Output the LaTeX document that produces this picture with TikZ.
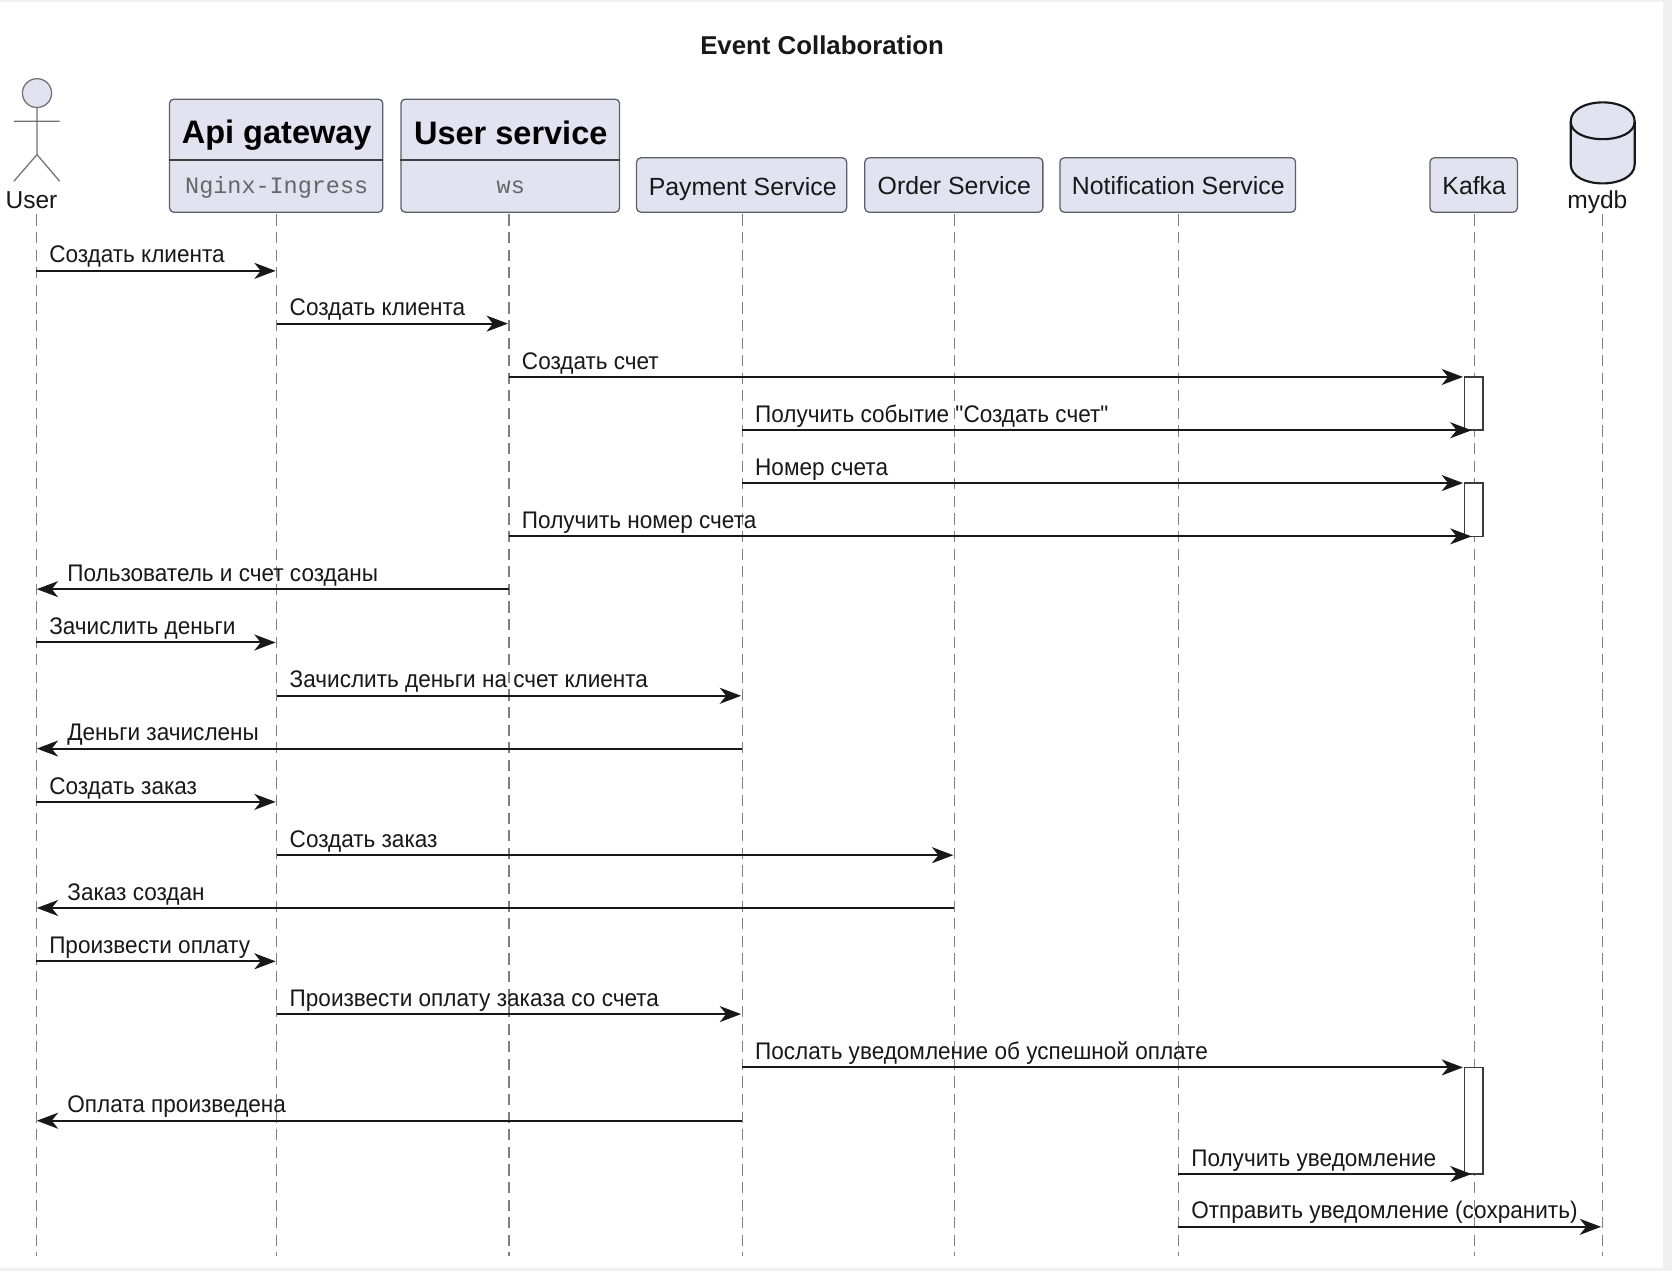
\documentclass[tikz,border=0pt]{standalone}
\usepackage{fontspec}
\setmainfont{Liberation Sans}
\setmonofont{Liberation Mono}
\newfontfamily\msgfont[FakeStretch=0.94]{Liberation Sans}
\usetikzlibrary{arrows.meta}
\definecolor{pfill}{HTML}{E2E2F0}
\definecolor{pline}{HTML}{5F5F68}
\definecolor{ink}{HTML}{181818}
\definecolor{band}{HTML}{F0F0F0}
\tikzset{
  pbox/.style={draw=pline,fill=pfill,line width=1.2pt,rounded corners=4pt,inner sep=0pt},
  ptext/.style={font=\fontsize{23.3}{26}\selectfont,text=ink,inner sep=0pt,anchor=center},
  bigtext/.style={font=\fontsize{30.5}{34}\selectfont\bfseries,text=black,inner sep=0pt,anchor=center},
  monotext/.style={font=\fontsize{22}{26}\selectfont\ttfamily,text=black!60,inner sep=0pt,anchor=center},
  life/.style={draw=black!50,line width=1.2pt,dash pattern=on 10.5pt off 6pt},
  msg/.style={draw=ink,line width=1.9pt,-{Stealth[length=20pt,width=15pt,inset=6pt]}},
  msgtext/.style={font=\msgfont\fontsize{22.5}{26}\selectfont,text=ink,inner sep=0pt,anchor=base west},
  act/.style={draw=ink!85,fill=white,line width=1.6pt},
  actor/.style={draw=black!55,line width=1.2pt},
  div/.style={draw=black!75,line width=1.8pt}
}
% message: y, from, to, end inset, text x offset, text
\newcommand{\msgR}[5][0]{%
  \draw[msg,shorten >=#1pt] (#3 |- 0,#2) -- (#4 |- 0,#2);
  \node[msgtext] at ([xshift=12pt]#3 |- 0,#2-7.4) {#5};}
\newcommand{\msgL}[4]{%
  \draw[msg,shorten >=0.5pt] (#2 |- 0,#1) -- (#3 |- 0,#1);
  \node[msgtext] at ([xshift=29pt]#3 |- 0,#1-7.4) {#4};}
\begin{document}
\begin{tikzpicture}[x=1pt,y=-1pt]
\useasboundingbox (0,0) rectangle (1568,1192);
\fill[band] (0,0) rectangle (1568,1192);
\fill[white] (0,2) rectangle (1560,1189);

\node[font=\fontsize{24.2}{28}\selectfont\bfseries,text=ink,inner sep=0pt] (title) at (771,42.5) {Event Collaboration};

% lifeline ends
\coordinate (uT) at (34,201);      \coordinate (uB) at (34,1178);
\coordinate (gT) at (259.5,201);   \coordinate (gB) at (259.5,1178);
\coordinate (sT) at (477.3,201);   \coordinate (sB) at (477.3,1178);
\coordinate (pT) at (696,201);     \coordinate (pB) at (696,1178);
\coordinate (oT) at (895,201);     \coordinate (oB) at (895,1178);
\coordinate (nT) at (1105,201);    \coordinate (nB) at (1105,1178);
\coordinate (kT) at (1382.5,201);  \coordinate (kB) at (1382.5,1178);
\coordinate (dT) at (1502.5,201);  \coordinate (dB) at (1502.5,1178);
\foreach \a/\b in {uT/uB,gT/gB,sT/sB,pT/pB,oT/oB,nT/nB,kT/kB,dT/dB}
  \draw[life] (\a) -- (\b);

% actor
\draw[actor,fill=pfill] (34.7,87.3) ellipse (13.7pt and 13.5pt);
\draw[actor] (34.7,100.8) -- (34.7,145) (13,113.7) -- (56,113.7)
  (13,170) -- (34.7,145) -- (56,170);
\node[font=\fontsize{23}{26}\selectfont,text=ink,inner sep=0pt] (user) at (29.5,188) {User};

% participants
\node[pbox,minimum width=200pt,minimum height=106pt] (gw) at (259,146) {};
\draw[div] (gw.west |- 0,150) -- (gw.east |- 0,150);
\node[bigtext] (gwt) at (259.5,127) {Api gateway};
\node[monotext] (gws) at (259.5,176) {Nginx-Ingress};

\node[pbox,minimum width=205pt,minimum height=106pt] (us) at (478.5,146) {};
\draw[div] (us.west |- 0,150) -- (us.east |- 0,150);
\node[bigtext] (ust) at (479,124.5) {User service};
\node[monotext] (uss) at (479,176) {ws};

\node[pbox,minimum width=197pt,minimum height=51pt] (pay) at (695.5,173.5) {};
\node[ptext] at (696.5,177) {Payment Service};
\node[pbox,minimum width=167pt,minimum height=51pt] (ord) at (894.5,173.5) {};
\node[ptext] at (895,174.5) {Order Service};
\node[pbox,minimum width=221pt,minimum height=51pt] (ntf) at (1104.5,173.5) {};
\node[ptext] at (1105,174.5) {Notification Service};
\node[pbox,minimum width=82pt,minimum height=51pt] (kaf) at (1382,173.5) {};
\node[ptext] at (1382.5,174.5) {Kafka};

% database
\draw[draw=ink,line width=2pt,fill=pfill]
  (1473,114) .. controls (1473,90) and (1533,90) .. (1533,114)
  -- (1533,154) .. controls (1533,178) and (1473,178) .. (1473,154) -- cycle;
\draw[draw=ink,line width=2pt] (1473,114) .. controls (1473,136) and (1533,136) .. (1533,114);
\node[font=\fontsize{23}{26}\selectfont,text=ink,inner sep=0pt] (mydb) at (1498,190) {mydb};

% activations
\node[act,minimum width=17.5pt,minimum height=50pt,inner sep=0pt] (a1) at (1382.2,378.5) {};
\node[act,minimum width=17.5pt,minimum height=50pt,inner sep=0pt] (a2) at (1382.2,478) {};
\node[act,minimum width=17.5pt,minimum height=100pt,inner sep=0pt] (a3) at (1382.2,1051) {};

% messages
\msgR[1]{254}{uT}{gT}{Создать клиента}
\msgR[1]{303.5}{gT}{sT}{Создать клиента}
\msgR[10.5]{353.5}{sT}{kT}{Создать счет}
\msgR[2.5]{403.5}{pT}{kT}{Получить событие "Создать счет"}
\msgR[10.5]{453}{pT}{kT}{Номер счета}
\msgR[2.5]{503}{sT}{kT}{Получить номер счета}
\msgL{552.5}{sT}{uT}{Пользователь и счет созданы}
\msgR[1]{602.5}{uT}{gT}{Зачислить деньги}
\msgR[1]{652.5}{gT}{pT}{Зачислить деньги на счет клиента}
\msgL{702}{pT}{uT}{Деньги зачислены}
\msgR[1]{752}{uT}{gT}{Создать заказ}
\msgR[1]{802}{gT}{oT}{Создать заказ}
\msgL{851.5}{oT}{uT}{Заказ создан}
\msgR[1]{901.5}{uT}{gT}{Произвести оплату}
\msgR[1]{951}{gT}{pT}{Произвести оплату заказа со счета}
\msgR[10.5]{1001}{pT}{kT}{Послать уведомление об успешной оплате}
\msgL{1051}{pT}{uT}{Оплата произведена}
\msgR[2.5]{1101}{nT}{kT}{Получить уведомление}
\msgR[1]{1150.5}{nT}{dT}{Отправить уведомление (сохранить)}
\end{tikzpicture}
\end{document}
